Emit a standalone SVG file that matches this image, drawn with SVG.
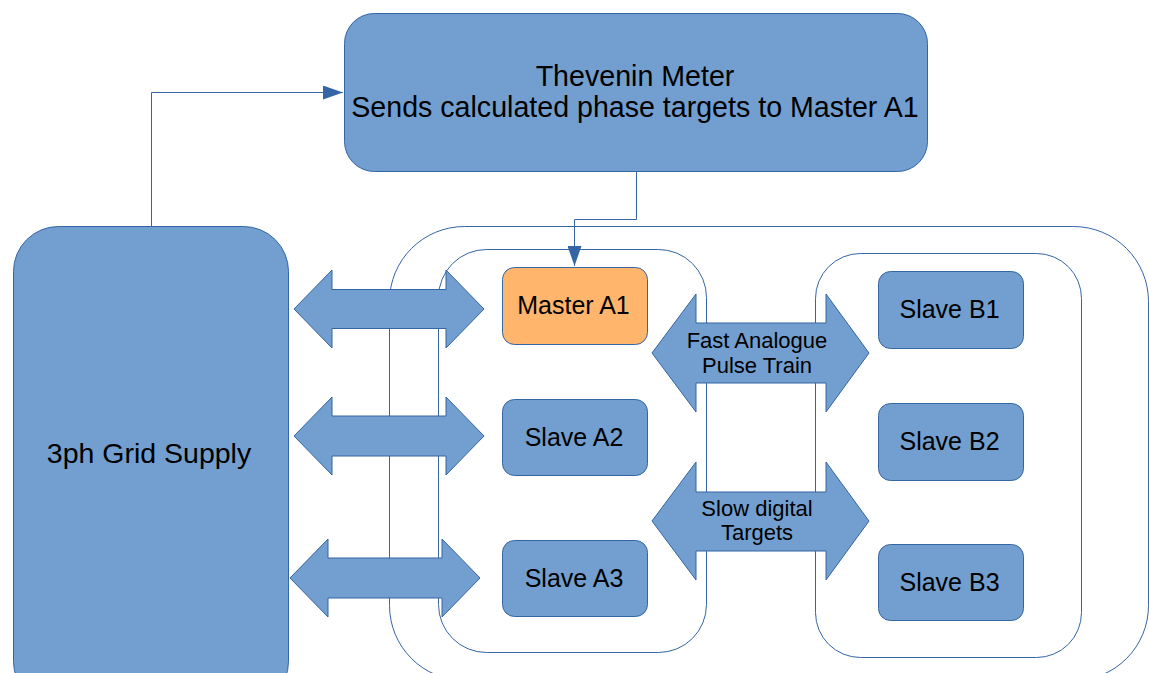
<svg xmlns="http://www.w3.org/2000/svg" width="1149" height="673" viewBox="0 0 1149 673">
<defs>
<style>
.box{fill:#729fcf;stroke:#3465a4;stroke-width:1}
.org{fill:#ffb66c;stroke:#3465a4;stroke-width:1}
.cont{fill:none;stroke:#3465a4;stroke-width:1}
.big{fill:#729fcf;stroke:#3465a4;stroke-width:1}
.conn{fill:none;stroke:#3465a4;stroke-width:1}
text{font-family:"Liberation Sans",Arial,sans-serif;fill:#000;text-anchor:middle}
.t25{font-size:25px}
.t22{font-size:22px}
.t28{font-size:28.6px}
</style>
<marker id="ah" viewBox="0 0 20 14" refX="20" refY="7" markerWidth="20" markerHeight="14" markerUnits="userSpaceOnUse" orient="auto">
<path d="M0,0 L20,7 L0,14 Z" fill="#3465a4"/>
</marker>
</defs>
<rect width="1149" height="673" fill="#ffffff"/>
<g id="containers">
<rect class="cont" x="389.5" y="226.5" width="759" height="454" rx="75"/>
<rect class="cont" x="438.5" y="249.5" width="268" height="403" rx="48"/>
<rect class="cont" x="815.5" y="253.5" width="266" height="404" rx="45"/>
</g>
<g id="connectors">
<path class="conn" d="M151.5,226 V92.5 H343" marker-end="url(#ah)"/>
<path class="conn" d="M636.5,172 V219.5 H574.5 V266" marker-end="url(#ah)"/>
</g>
<g id="thevenin">
<rect class="box" x="344.5" y="13.5" width="583" height="158" rx="30"/>
<text class="t28" x="635" y="86">Thevenin Meter</text>
<text class="t28" x="635" y="117">Sends calculated phase targets to Master A1</text>
</g>
<g id="grid">
<rect class="box" x="13.5" y="226.5" width="275" height="480" rx="45"/>
<text style="font-size:28.5px" x="149" y="463">3ph Grid Supply</text>
</g>
<g id="arrow-grid-1">
<polygon class="big" points="294,309 332,270 332,289.5 446,289.5 446,270 484,309 446,348 446,328.5 332,328.5 332,348"/>
</g>
<g id="arrow-grid-2">
<polygon class="big" points="294,436 332,397 332,416 446,416 446,397 484,436 446,475 446,456 332,456 332,475"/>
</g>
<g id="arrow-grid-3">
<polygon class="big" points="290,578 328,539 328,558 442,558 442,539 480,578 442,617 442,598 328,598 328,617"/>
</g>
<g id="arrow-fast">
<polygon class="big" points="652,353 696,294 696,323 826,323 826,294 869,353 826,412 826,383 696,383 696,412"/>
<text class="t22" x="757" y="348">Fast Analogue</text>
<text class="t22" x="757" y="373">Pulse Train</text>
</g>
<g id="arrow-slow">
<polygon class="big" points="652,521 696,462 696,492 826,492 826,462 869,521 826,580 826,551 696,551 696,580"/>
<text class="t22" x="757" y="516">Slow digital</text>
<text class="t22" x="757" y="540">Targets</text>
</g>
<g id="master-a1">
<rect class="org" x="502.5" y="267.5" width="145" height="77" rx="12"/>
<text class="t25" x="573.5" y="314">Master A1</text>
</g>
<g id="slave-a2">
<rect class="box" x="502.5" y="399.5" width="145" height="76" rx="12"/>
<text class="t25" x="574" y="446">Slave A2</text>
</g>
<g id="slave-a3">
<rect class="box" x="502.5" y="540.5" width="145" height="76" rx="12"/>
<text class="t25" x="574" y="587">Slave A3</text>
</g>
<g id="slave-b1">
<rect class="box" x="878.5" y="271.5" width="145" height="77" rx="12"/>
<text class="t25" x="949.5" y="318">Slave B1</text>
</g>
<g id="slave-b2">
<rect class="box" x="878.5" y="403.5" width="145" height="77" rx="12"/>
<text class="t25" x="949.5" y="450">Slave B2</text>
</g>
<g id="slave-b3">
<rect class="box" x="878.5" y="544.5" width="145" height="76" rx="12"/>
<text class="t25" x="949.5" y="591">Slave B3</text>
</g>
</svg>
